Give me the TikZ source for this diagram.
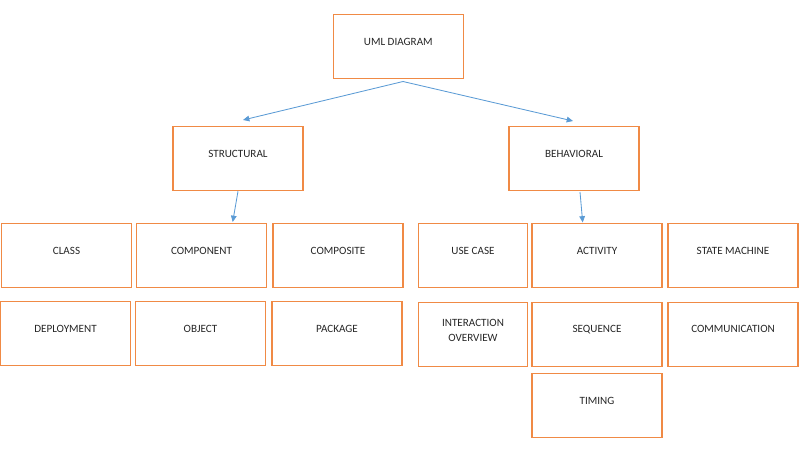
\documentclass[tikz,border=0pt]{standalone}
\usepackage{fontspec}
\setmainfont{Carlito}
\usetikzlibrary{arrows.meta}
\definecolor{boxorange}{HTML}{F08A45}
\definecolor{linkblue}{HTML}{5B9BD5}
\tikzset{
	umlbox/.style={shape=rectangle,draw=boxorange,line width=0.8pt,minimum width=3.25cm,minimum height=1.6cm,inner sep=0pt,
		font=\fontsize{7.9}{10.7}\selectfont,text=black!85,text height=5pt,text depth=7pt,align=center},
	narrowbox/.style={umlbox,minimum width=2.72cm},
	link/.style={draw=linkblue,line width=0.6pt,-{Triangle[length=4.5pt,width=4pt]}}
}
\begin{document}
\begin{tikzpicture}[x=0.025cm,y=-0.025cm]
	\useasboundingbox (0,0) rectangle (800,456);

	\node[umlbox] (uml) at (398.3,46.5) {UML DIAGRAM};
	\node[umlbox] (st) at (238,158.7) {STRUCTURAL};
	\node[umlbox] (bh) at (574,158.5) {BEHAVIORAL};

	\node[umlbox] (cls) at (66.5,255.7) {CLASS};
	\node[umlbox] (cmp) at (201.5,255.7) {COMPONENT};
	\node[umlbox] (cps) at (338,255.7) {COMPOSITE};
	\node[umlbox] (dpl) at (65.5,333.5) {DEPLOYMENT};
	\node[umlbox] (obj) at (200.5,333.5) {OBJECT};
	\node[umlbox] (pkg) at (337,333.5) {PACKAGE};

	\node[narrowbox] (usc) at (473,255.7) {USE CASE};
	\node[umlbox] (act) at (597,255.7) {ACTIVITY};
	\node[umlbox] (stm) at (733,255.7) {STATE MACHINE};
	\node[narrowbox,text height=12pt,text depth=2pt] (ino) at (473,334.8) {INTERACTION\\OVERVIEW};
	\node[umlbox] (seq) at (597,334.3) {SEQUENCE};
	\node[umlbox] (com) at (733,334.3) {COMMUNICATION};
	\node[umlbox] (tim) at (597,405.5) {TIMING};

	\coordinate (split) at (403,81.5);
	\coordinate (stin) at (243,120);
	\coordinate (bhin) at (573,121);
	\coordinate (bhout) at (580,192);
	\coordinate (stend) at (232.7,222);
	\coordinate (bhend) at (582.7,222.5);

	\draw[link] (split) -- (stin);
	\draw[link] (split) -- (bhin);
	\draw[link] (st.south) -- (stend);
	\draw[link] (bhout) -- (bhend);
\end{tikzpicture}
\end{document}
